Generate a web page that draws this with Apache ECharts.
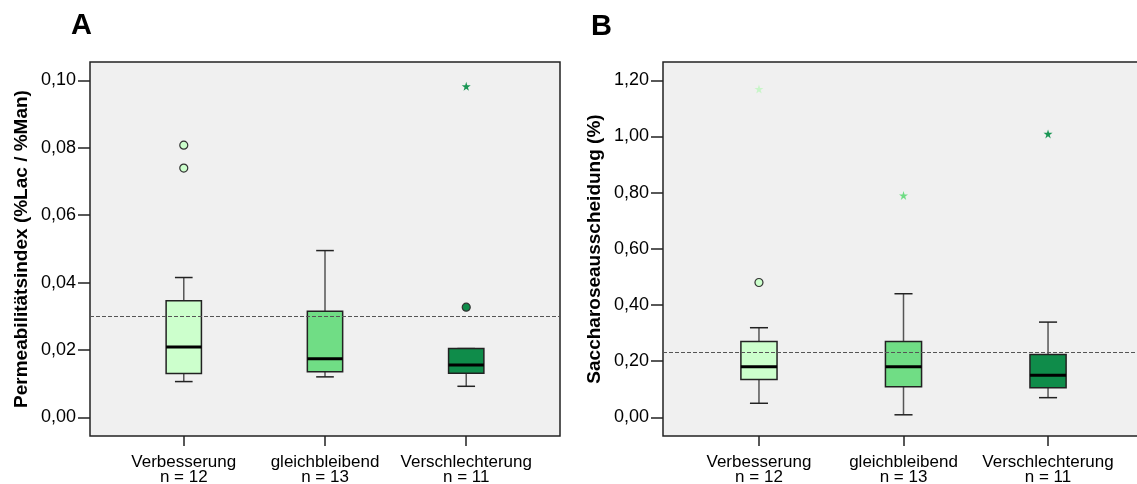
<!DOCTYPE html>
<html>
<head>
<meta charset="utf-8">
<script src="https://cdn.jsdelivr.net/npm/echarts@6/dist/echarts.min.js"></script>
<style>
html,body{margin:0;padding:0;background:#fff;}
#chart{width:1137px;height:484px;}
</style>
</head>
<body>
<div id="chart"></div>
<script>
// ---------- data ----------
const categories = ['Verbesserung', 'gleichbleibend', 'Verschlechterung'];
const groupN = [12, 13, 11];
const groupColors = ['#ccffcc', '#70dd85', '#0f8c4a'];

// [low whisker, Q1, median, Q3, high whisker]
const permBoxes = [
  [0.0106, 0.0130, 0.0209, 0.0346, 0.0415],
  [0.0120, 0.0135, 0.0174, 0.0315, 0.0495],
  [0.0092, 0.0131, 0.0155, 0.0204, 0.0204]
];
const permOutliers = [[0, 0.0808], [0, 0.0740], [2, 0.0327]];
const permExtremes = [[2, 0.0983]];
const permRef = 0.030;
const permTicks = [0, 0.02, 0.04, 0.06, 0.08, 0.10];

const sacBoxes = [
  [0.050, 0.135, 0.180, 0.270, 0.319],
  [0.009, 0.109, 0.180, 0.270, 0.440],
  [0.070, 0.105, 0.150, 0.224, 0.339]
];
const sacOutliers = [[0, 0.480]];
const sacExtremes = [[0, 1.169], [1, 0.790], [2, 1.009]];
const sacRef = 0.230;
const sacTicks = [0, 0.2, 0.4, 0.6, 0.8, 1.0, 1.2];

const starColors = ['#c8f5c8', '#6fdc84', '#1a9654'];
// ---------- chart ----------
const FONT = '"Liberation Sans", Arial, sans-serif';
const BOX_W = 0.25;
const catIdx = [0, 1, 2];

function renderBox(params, api) {
  const x = api.value(0);
  const lo = api.coord([x, api.value(1)]);
  const q1 = api.coord([x, api.value(2)]);
  const med = api.coord([x, api.value(3)]);
  const q3 = api.coord([x, api.value(4)]);
  const hi = api.coord([x, api.value(5)]);
  const hw = api.size([BOX_W, 0])[0] / 2;
  const cw = hw / 2;
  const cx = lo[0];
  return {
    type: 'group',
    children: [
      {type: 'line', shape: {x1: cx, y1: hi[1], x2: cx, y2: q3[1]}, style: {stroke: '#555', lineWidth: 1.5}},
      {type: 'line', shape: {x1: cx, y1: q1[1], x2: cx, y2: lo[1]}, style: {stroke: '#555', lineWidth: 1.5}},
      {type: 'line', shape: {x1: cx - cw, y1: hi[1], x2: cx + cw, y2: hi[1]}, style: {stroke: '#222', lineWidth: 1.5}},
      {type: 'line', shape: {x1: cx - cw, y1: lo[1], x2: cx + cw, y2: lo[1]}, style: {stroke: '#222', lineWidth: 1.5}},
      {type: 'rect', shape: {x: cx - hw, y: q3[1], width: hw * 2, height: q1[1] - q3[1]},
        style: {fill: groupColors[x], stroke: '#222', lineWidth: 1.5}},
      {type: 'line', shape: {x1: cx - hw, y1: med[1], x2: cx + hw, y2: med[1]}, style: {stroke: '#000', lineWidth: 3}}
    ]
  };
}

function fmtDec(v) { return v.toFixed(2).replace('.', ','); }
function fmtCat(v) {
  const i = Math.round(v);
  return categories[i] + '\nn = ' + groupN[i];
}

const STAR = 'path://M50,0 L61,35 L98,35 L68,57 L79,91 L50,70 L21,91 L32,57 L2,35 L39,35 Z';

function xAxisDef(gridIndex) {
  return {
    type: 'value', gridIndex: gridIndex, min: -0.664, max: 2.664,
    axisLine: {show: false, onZero: false},
    splitLine: {show: false},
    axisTick: {show: true, customValues: catIdx, length: 10, lineStyle: {color: '#222', width: 1.5}},
    axisLabel: {customValues: catIdx, formatter: fmtCat, color: '#000', fontSize: 17,
      lineHeight: 15, fontFamily: FONT, margin: 19}
  };
}
function yAxisDef(gridIndex, min, max, ticks, name) {
  return {
    type: 'value', gridIndex: gridIndex, min: min, max: max,
    name: name, nameLocation: 'middle', nameGap: 59,
    nameTextStyle: {fontSize: 19, fontWeight: 'bold', color: '#000', fontFamily: FONT},
    axisLine: {show: false, onZero: false},
    splitLine: {show: false},
    axisTick: {show: true, customValues: ticks, length: 12, lineStyle: {color: '#222', width: 1.5}},
    axisLabel: {customValues: ticks, formatter: fmtDec, color: '#000', fontSize: 18,
      fontFamily: FONT, margin: 14, padding: [10, 0, 0, 0]}
  };
}

function boxData(boxes) { return boxes.map((b, i) => [i].concat(b)); }

function panelSeries(gi, boxes, outliers, extremes, ref) {
  return [
    {
      type: 'custom', xAxisIndex: gi, yAxisIndex: gi, z: 2,
      renderItem: renderBox, data: boxData(boxes),
      encode: {x: 0, y: [1, 2, 3, 4, 5]}
    },
    {
      type: 'scatter', xAxisIndex: gi, yAxisIndex: gi, z: 5,
      symbol: 'circle', symbolSize: 8,
      data: outliers,
      itemStyle: {
        color: (p) => groupColors[p.data[0]],
        borderColor: '#333', borderWidth: 1.2, opacity: 1
      },
      markLine: {
        silent: true, symbol: 'none', label: {show: false},
        lineStyle: {color: '#555', type: [4, 2], width: 1},
        data: [{yAxis: ref}]
      }
    },
    {
      type: 'scatter', xAxisIndex: gi, yAxisIndex: gi, z: 5,
      symbol: STAR, symbolSize: 9,
      data: extremes,
      itemStyle: {color: (p) => starColors[p.data[0]], opacity: 1}
    }
  ];
}

const chart = echarts.init(document.getElementById('chart'), null, {renderer: 'canvas'});
chart.setOption({
  animation: false,
  backgroundColor: '#ffffff',
  textStyle: {fontFamily: FONT},
  title: [
    {text: 'A', left: 66, top: 6, textStyle: {fontSize: 29, fontWeight: 'bold', color: '#000', fontFamily: FONT}},
    {text: 'B', left: 586, top: 7, textStyle: {fontSize: 29, fontWeight: 'bold', color: '#000', fontFamily: FONT}}
  ],
  grid: [
    {left: 90, top: 62, width: 470, height: 374, show: true, backgroundColor: '#f0f0f0',
      borderColor: '#222', borderWidth: 1.5, containLabel: false, outerBoundsMode: 'none'},
    {left: 663, top: 62, width: 481, height: 374, show: true, backgroundColor: '#f0f0f0',
      borderColor: '#222', borderWidth: 1.5, containLabel: false, outerBoundsMode: 'none'}
  ],
  xAxis: [xAxisDef(0), xAxisDef(1)],
  yAxis: [
    yAxisDef(0, -0.00556, 0.1055, permTicks, 'Permeabilitätsindex (%Lac / %Man)'),
    yAxisDef(1, -0.0665, 1.265, sacTicks, 'Saccharoseausscheidung (%)')
  ],
  series: [].concat(
    panelSeries(0, permBoxes, permOutliers, permExtremes, permRef),
    panelSeries(1, sacBoxes, sacOutliers, sacExtremes, sacRef)
  )
});
</script>
</body>
</html>
